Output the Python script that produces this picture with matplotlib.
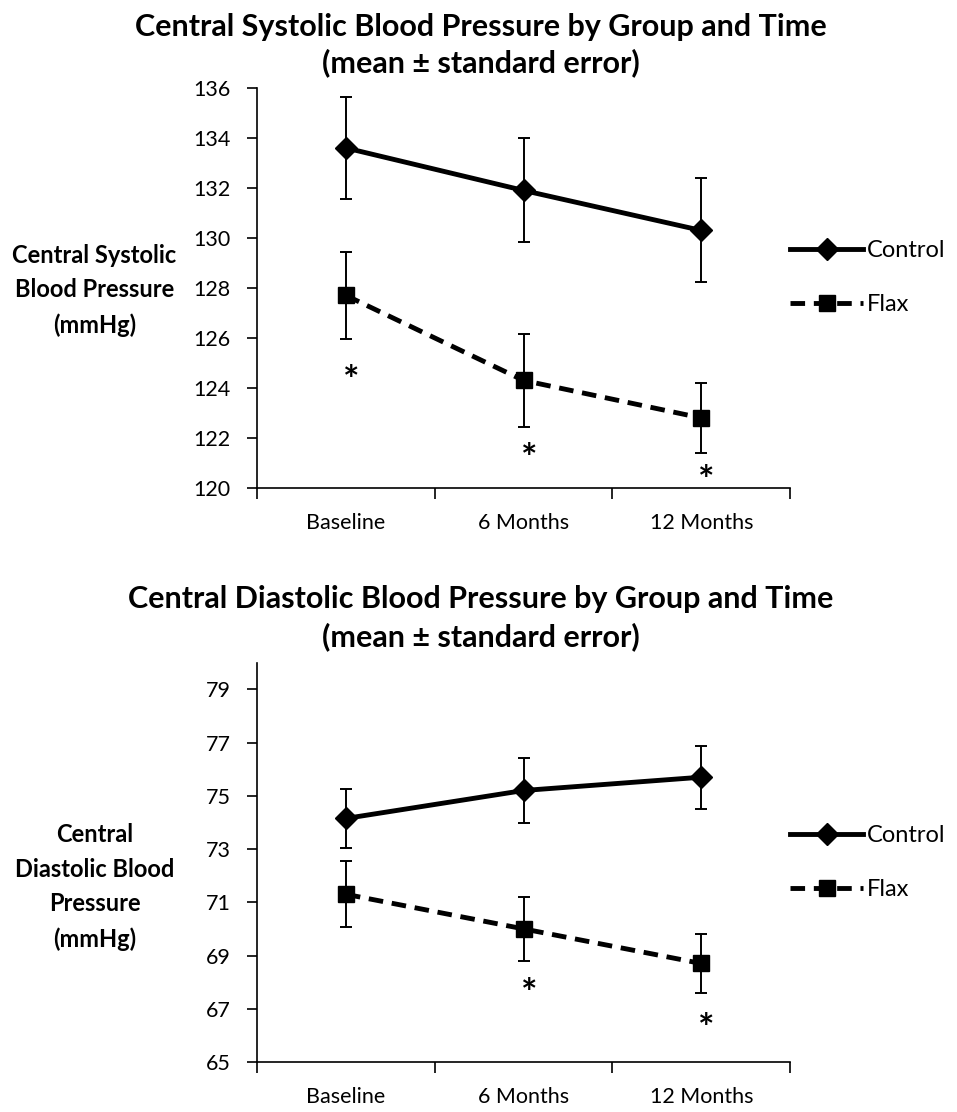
import numpy as np
import matplotlib
matplotlib.use('Agg')
import matplotlib.pyplot as plt
from matplotlib.lines import Line2D

plt.rcParams['font.family'] = ['Lato', 'DejaVu Sans']

times = ['Baseline', '6 Months', '12 Months']

sys_control = [133.6, 131.9, 130.3]
sys_control_se = [2.05, 2.08, 2.08]
sys_flax = [127.7, 124.3, 122.8]
sys_flax_se = [1.75, 1.86, 1.4]
sys_star_y = [124.7, 121.6, 120.7]

dia_control = [74.15, 75.2, 75.7]
dia_control_se = [1.1, 1.22, 1.18]
dia_flax = [71.3, 70.0, 68.7]
dia_flax_se = [1.24, 1.21, 1.1]
dia_star_idx = [1, 2]
dia_star_y = [67.95, 66.65]

DASH = (0, (3, 1.8))
STAR_FS = 28
LW = 3.5


def panel(ax, control, control_se, flax, flax_se, star_idx, star_y, ylim, yticks, leg_y):
    x = np.arange(len(times)) + 0.5
    ax.errorbar(x, control, yerr=control_se, color='black', lw=LW, marker='D',
                ms=11.5, capsize=4.5, elinewidth=1.4, capthick=1.4)
    ax.errorbar(x, flax, yerr=flax_se, color='black', lw=LW, ls=DASH,
                marker='s', ms=12, capsize=4.5, elinewidth=1.4, capthick=1.4)
    for i, yy in zip(star_idx, star_y):
        ax.annotate('*', (x[i] + 0.03, yy), xytext=(0, -0.58 * STAR_FS),
                    textcoords='offset points', ha='center', va='baseline',
                    fontsize=STAR_FS, fontweight='bold')
    ax.set_xlim(0, 3)
    ax.set_ylim(*ylim)
    ax.set_yticks(yticks)
    ax.set_xticks([0, 1, 2, 3])
    ax.set_xticklabels([])
    ax.set_xticks(x, minor=True)
    ax.set_xticklabels(times, minor=True)
    ax.tick_params(axis='x', which='major', length=8, width=1.2, direction='out')
    ax.tick_params(axis='x', which='minor', length=0, pad=18, labelsize=15.5)
    ax.tick_params(axis='y', length=7, width=1.2, labelsize=15.5, pad=12)
    for s in ['top', 'right']:
        ax.spines[s].set_visible(False)
    for s in ['left', 'bottom']:
        ax.spines[s].set_linewidth(1.2)
    handles = [Line2D([], [], color='black', lw=LW, marker='D', ms=11.5),
               Line2D([], [], color='black', lw=LW, ls=DASH, marker='s', ms=12)]
    ax.legend(handles, ['Control', 'Flax'], loc='center left',
              bbox_to_anchor=(1.0, leg_y), frameon=False, fontsize=17,
              handlelength=3.1, handletextpad=0.17, labelspacing=1.4,
              borderaxespad=0, borderpad=0)
    return ax


fig = plt.figure(figsize=(9.57, 11.12), dpi=100)

ax1 = fig.add_axes([0.2686, 0.5612, 0.557, 0.3597])
panel(ax1, sys_control, sys_control_se, sys_flax, sys_flax_se,
      [0, 1, 2], sys_star_y, (120, 136), np.arange(120, 137, 2), 0.525)
fig.text(0.502, 0.976, 'Central Systolic Blood Pressure by Group and Time',
         ha='center', va='center', fontsize=22, fontweight='bold')
fig.text(0.502, 0.944, '(mean \u00b1 standard error)',
         ha='center', va='center', fontsize=22, fontweight='bold')
fig.text(0.0987, 0.739, 'Central Systolic\nBlood Pressure\n(mmHg)', ha='center',
         va='center', fontsize=17, fontweight='bold', linespacing=1.6)

ax2 = fig.add_axes([0.2686, 0.045, 0.557, 0.359])
panel(ax2, dia_control, dia_control_se, dia_flax, dia_flax_se,
      dia_star_idx, dia_star_y, (65, 80), np.arange(65, 80, 2), 0.5)
fig.text(0.502, 0.461, 'Central Diastolic Blood Pressure by Group and Time',
         ha='center', va='center', fontsize=22, fontweight='bold')
fig.text(0.502, 0.427, '(mean \u00b1 standard error)',
         ha='center', va='center', fontsize=22, fontweight='bold')
fig.text(0.0987, 0.2023, 'Central\nDiastolic Blood\nPressure\n(mmHg)', ha='center',
         va='center', fontsize=17, fontweight='bold', linespacing=1.6)

fig.savefig('out.png', dpi=100)
